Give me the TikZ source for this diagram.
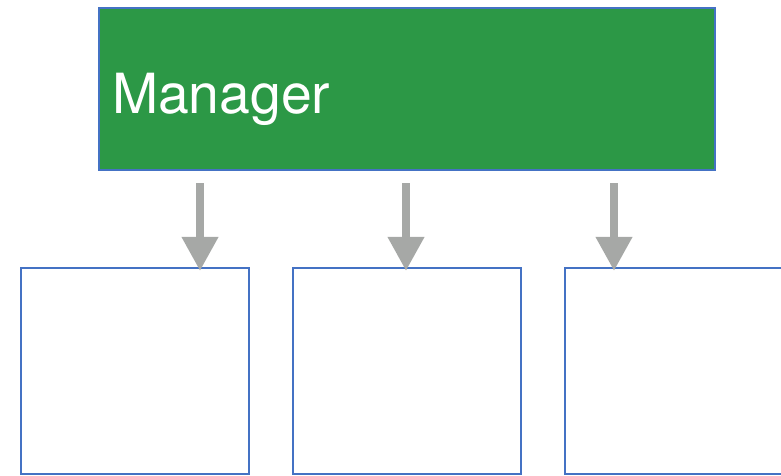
\documentclass[tikz,border=0pt]{standalone}
\usepackage{fontspec}
\setmainfont{TeX Gyre Heros}
\usetikzlibrary{calc,positioning,arrows.meta}
\definecolor{mgrgreen}{RGB}{44,152,70}
\definecolor{edgeblue}{RGB}{68,114,196}
\definecolor{feedgray}{RGB}{166,168,166}
\tikzstyle{managerbox}=[rectangle,draw=edgeblue,fill=mgrgreen,line width=1.9pt,minimum width=462pt,minimum height=121.5pt,inner sep=0pt]
\tikzstyle{workerbox}=[rectangle,draw=edgeblue,line width=1.6pt,minimum width=171pt,minimum height=154.5pt,inner sep=0pt]
\tikzstyle{feed}=[feedgray,line width=6pt,-{Triangle[width=26pt,length=25.5pt]},shorten >=-3pt]

\begin{document}
\begin{tikzpicture}[x=0.75pt,y=-0.75pt]
\useasboundingbox (0,0) rectangle (781,475);
% manager on top
\node[managerbox] (manager) at (407,89) {};
\node[anchor=base west,inner sep=0pt,text=white,font=\fontsize{41.5}{42}\selectfont] (mgrlabel) at ($(manager.west)+(14,24)$) {Manager};

% workers below
\foreach \i/\x in {1/135,2/407,3/679}{
	\node[workerbox] (w\i) at (\x,371) {};
}

% arrows
\foreach \i/\dx in {1/-207,2/-1,3/207}{
	\coordinate (m\i) at ($(manager.south)+(\dx,12)$);
	\draw[feed] (m\i) -- (m\i |- w\i.north);
}
\end{tikzpicture}
\end{document}
